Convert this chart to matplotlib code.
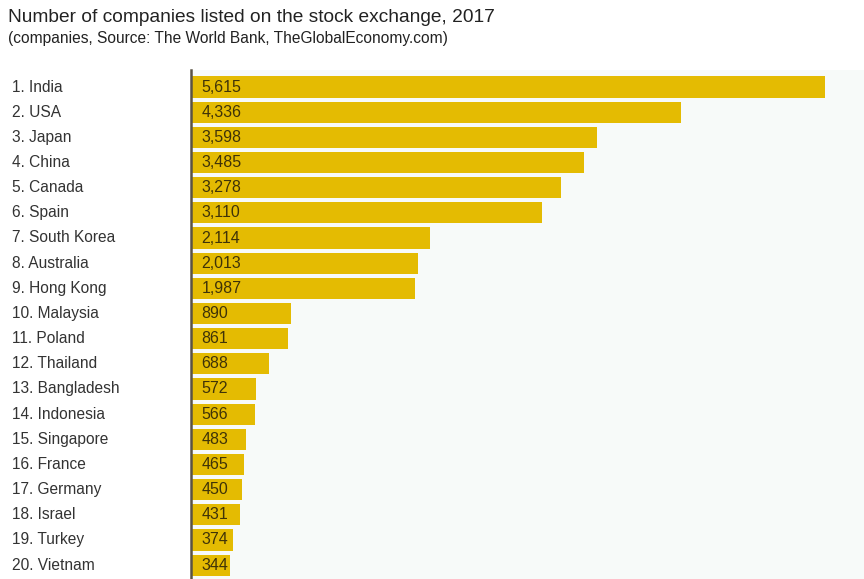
import matplotlib
matplotlib.use("Agg")
import matplotlib.pyplot as plt

countries = ["India", "USA", "Japan", "China", "Canada", "Spain", "South Korea",
             "Australia", "Hong Kong", "Malaysia", "Poland", "Thailand",
             "Bangladesh", "Indonesia", "Singapore", "France", "Germany",
             "Israel", "Turkey", "Vietnam"]
companies = [5615, 4336, 3598, 3485, 3278, 3110, 2114, 2013, 1987, 890, 861,
             688, 572, 566, 483, 465, 450, 431, 374, 344]

plt.rcParams["font.family"] = ["Liberation Sans", "DejaVu Sans"]

W, H = 864, 579
fig = plt.figure(figsize=(W / 100, H / 100), dpi=100)
fig.patch.set_facecolor("white")

# plot area: left edge at the axis line, top just above the first bar
ax = fig.add_axes([191 / W, 0, 1 - 191 / W, 1 - 70 / H])
ax.set_facecolor("#f7faf9")

pos = list(range(len(countries)))
ax.barh(pos, companies, height=0.84, color="#e4bb02", edgecolor="none")

for i, v in enumerate(companies):
    ax.text(95, i, f"{v:,}", va="center", ha="left",
            fontsize=11.5, color="#3f3308")

# country labels on the left, left aligned in figure coords
for i, c in enumerate(countries):
    y_px = 87 + 25.16 * i
    fig.text(12 / W, 1 - y_px / H, f"{i + 1}. {c}", ha="left", va="center",
             fontsize=11.2, color="#333333")

ax.set_xlim(0, 5615 * (W - 191) / 634)
ax.set_ylim(19.55, -0.676)
ax.set_xticks([])
ax.set_yticks([])
for s in ["top", "right", "bottom"]:
    ax.spines[s].set_visible(False)
ax.spines["left"].set_color("#5a5344")
ax.spines["left"].set_linewidth(1.8)

fig.text(8 / W, 1 - 17 / H, "Number of companies listed on the stock exchange, 2017",
         ha="left", va="center", fontsize=13.8, color="#222222")
fig.text(8 / W, 1 - 38 / H, "(companies, Source: The World Bank, TheGlobalEconomy.com)",
         ha="left", va="center", fontsize=11.2, color="#222222")

fig.savefig("out.png", dpi=100, facecolor="white")
